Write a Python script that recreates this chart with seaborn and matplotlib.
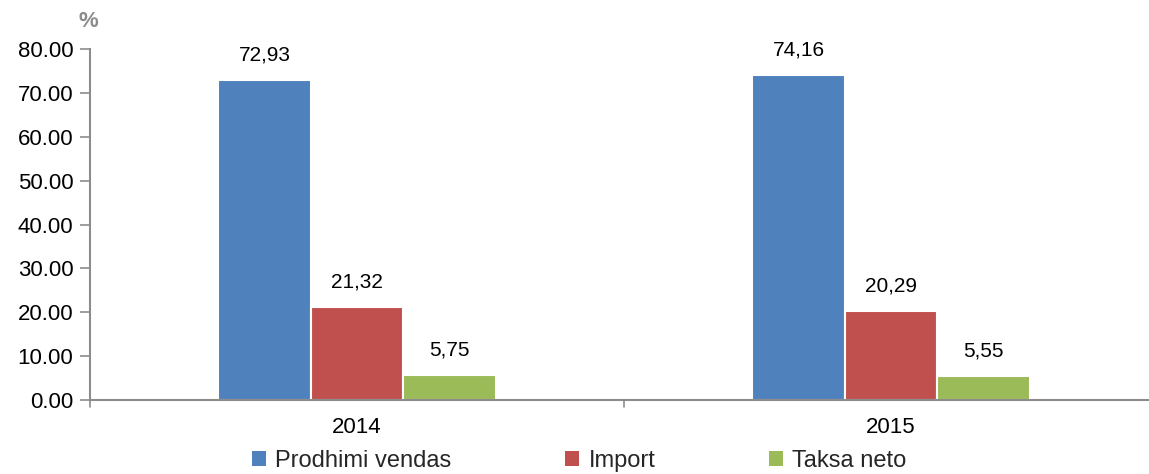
import matplotlib
matplotlib.use("Agg")
import matplotlib.pyplot as plt
import seaborn as sns
import pandas as pd
from matplotlib.patches import Patch

years = ["2014", "2015"]
series = ["Prodhimi vendas", "Import", "Taksa neto"]
prodhimi = [72.93, 74.16]
importi = [21.32, 20.29]
taksa = [5.75, 5.55]
colors = ["#4F81BD", "#C0504D", "#9BBB59"]

sns.set_theme(style="white")
plt.rcParams['font.family'] = ['Liberation Sans Narrow', 'Liberation Sans', 'DejaVu Sans']

df = pd.DataFrame({
    "year": years * 3,
    "series": [s for s in series for _ in years],
    "value": prodhimi + importi + taksa,
})

fig = plt.figure(figsize=(11.49, 4.74), dpi=100)
ax = fig.add_axes([0.0783, 0.156, 0.9217, 0.7405])

sns.barplot(data=df, x="year", y="value", hue="series", palette=colors,
            saturation=1, width=0.52, edgecolor="white", linewidth=1.5,
            ax=ax, legend=False)

for cont in ax.containers:
    ax.bar_label(cont, labels=[f"{v:.2f}".replace(".", ",") for v in cont.datavalues],
                 padding=11, fontsize=15, color="black")

ax.set_xlim(-0.5, 1.483)
ax.set_ylim(0, 80)
ax.set_yticks(range(0, 81, 10))
ax.set_yticklabels([f"{v:.2f}" for v in range(0, 81, 10)], fontsize=16, color="black")
ax.set_xticks([0, 1])
ax.set_xticklabels(years, fontsize=16, color="black")
ax.set_xlabel("")
ax.set_ylabel("")

for s in ["top", "right"]:
    ax.spines[s].set_visible(False)
for s in ["left", "bottom"]:
    ax.spines[s].set_color("#8c8c8c")
    ax.spines[s].set_linewidth(1.5)

ax.tick_params(axis="y", left=True, length=7, width=1.2, color="#8c8c8c", pad=5)
ax.tick_params(axis="x", bottom=False, pad=6)
# category dividers on the x axis
for xd in [-0.5, 0.5]:
    ax.plot([xd, xd], [0, -1.6], color="#8c8c8c", lw=1.2, clip_on=False)

fig.text(0.077, 0.955, "%", fontsize=16, color="#8c8c8c", fontweight="bold",
         ha="center", va="center")

handles = [Patch(facecolor=c, edgecolor="none") for c in colors]
fig.legend(handles, series, loc="center", bbox_to_anchor=(0.504, 0.027), ncol=3,
           frameon=False, fontsize=17, handlelength=0.6, handleheight=0.6,
           handletextpad=0.4, columnspacing=4.8, borderpad=0)

fig.savefig("out.png", dpi=100)
